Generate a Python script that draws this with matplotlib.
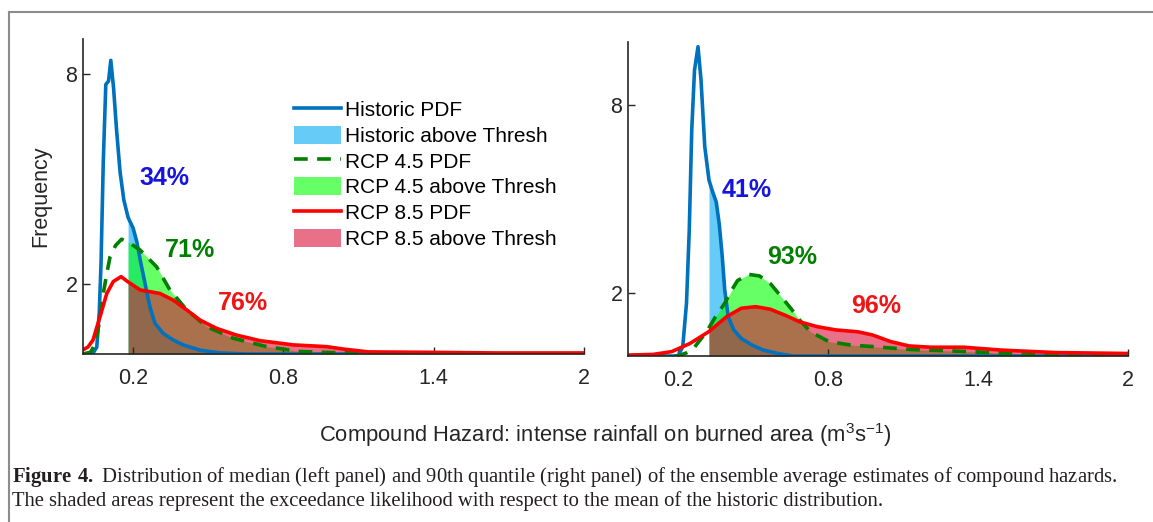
import matplotlib
matplotlib.use("Agg")
import matplotlib.pyplot as plt
import numpy as np
from matplotlib.patches import Patch
from matplotlib.lines import Line2D

plt.rcParams['font.family'] = ['Liberation Sans', 'DejaVu Sans']
plt.rcParams['mathtext.fontset'] = 'custom'
plt.rcParams['mathtext.rm'] = 'Liberation Sans'
plt.rcParams['mathtext.bf'] = 'Liberation Serif:bold'

thr_left = 0.18
hist_x_L = [0.0, 0.04, 0.055, 0.065, 0.072, 0.081, 0.091, 0.102, 0.111, 0.122, 0.134, 0.148,
            0.163, 0.18, 0.2, 0.215, 0.228, 0.248, 0.267, 0.287, 0.32, 0.36, 0.4, 0.467,
            0.547, 0.65, 1.0, 1.5, 2.0]
hist_y_L = [0.0, 0.02, 0.2, 1.2, 2.6, 5.5, 7.7, 7.8, 8.39, 7.6, 6.4, 5.2,
            4.4, 3.9, 3.6, 3.2, 2.7, 2.0, 1.35, 0.88, 0.59, 0.4, 0.26, 0.11,
            0.03, 0.0, 0.0, 0.0, 0.0]
rcp45_x_L = [0.0, 0.03, 0.05, 0.065, 0.081, 0.095, 0.108, 0.13, 0.154, 0.18, 0.228, 0.294,
             0.347, 0.414, 0.494, 0.60, 0.733, 0.866, 1.0, 1.3, 1.6, 2.0]
rcp45_y_L = [0.0, 0.05, 0.3, 0.9, 1.73, 2.3, 2.78, 3.1, 3.28, 3.2, 2.97, 2.49,
             1.83, 1.26, 0.78, 0.45, 0.21, 0.07, 0.04, 0.03, 0.0, 0.0]
rcp85_x_L = [0.0, 0.02, 0.04, 0.068, 0.095, 0.121, 0.152, 0.18, 0.228, 0.267, 0.307, 0.36,
             0.414, 0.467, 0.534, 0.613, 0.707, 0.84, 0.973, 1.04, 1.14, 1.35, 1.65, 2.0]
rcp85_y_L = [0.12, 0.2, 0.4, 1.07, 1.73, 2.07, 2.21, 2.06, 1.83, 1.78, 1.73, 1.54,
             1.26, 0.97, 0.73, 0.54, 0.38, 0.26, 0.21, 0.14, 0.06, 0.05, 0.03, 0.03]

thr_right = 0.324
hist_x_R = [0.0, 0.2, 0.219, 0.234, 0.245, 0.255, 0.266, 0.28, 0.292, 0.307, 0.324, 0.336,
            0.353, 0.365, 0.377, 0.387, 0.401, 0.423, 0.453, 0.496, 0.54, 0.6, 0.66, 1.0,
            1.5, 2.0]
hist_y_R = [0.0, 0.0, 0.3, 1.68, 4.0, 7.2, 9.1, 9.85, 8.8, 6.67, 5.6, 5.29,
            4.9, 4.2, 3.16, 2.1, 1.25, 0.83, 0.56, 0.35, 0.19, 0.08, 0.0, 0.0,
            0.0, 0.0]
rcp45_x_R = [0.0, 0.2, 0.234, 0.263, 0.307, 0.324, 0.35, 0.387, 0.415, 0.438, 0.482, 0.526,
             0.569, 0.613, 0.657, 0.686, 0.73, 0.803, 0.89, 0.978, 1.124, 1.27, 1.416, 1.56,
             1.78, 2.0]
rcp45_y_R = [0.0, 0.0, 0.1, 0.25, 0.7, 0.9, 1.25, 1.68, 2.1, 2.4, 2.6, 2.55,
             2.31, 1.89, 1.46, 1.15, 0.77, 0.46, 0.35, 0.3, 0.21, 0.17, 0.12, 0.06,
             0.03, 0.0]
rcp85_x_R = [0.0, 0.1, 0.175, 0.248, 0.324, 0.394, 0.453, 0.511, 0.569, 0.628, 0.686, 0.759,
             0.832, 0.92, 0.978, 1.05, 1.124, 1.21, 1.343, 1.49, 1.708, 2.0]
rcp85_y_R = [0.03, 0.05, 0.14, 0.4, 0.78, 1.25, 1.52, 1.57, 1.49, 1.3, 1.09, 0.93,
             0.83, 0.77, 0.67, 0.46, 0.32, 0.28, 0.28, 0.19, 0.11, 0.08]

pct_left = ['34%', '71%', '76%']
pct_right = ['41%', '93%', '96%']
pct_pos_left = [(0.327, 5.03), (0.427, 2.97), (0.639, 1.46)]
pct_pos_right = [(0.474, 5.3), (0.657, 3.14), (0.993, 1.59)]

xticks = [0.2, 0.8, 1.4, 2]
xticklabels = ['0.2', '0.8', '1.4', '2']
yticks = [2, 8]

c_hist = '#0072BD'
c_45 = '#007F00'
c_85 = '#FF0000'
f_hist = (0.0, 0.67, 0.95)
f_45 = (0.0, 1.0, 0.0)
f_85 = (0.85, 0.07, 0.23)
fa = 0.6
lw = 2.6
dash = (0, (3.8, 2.6))


def shade(ax, x, y, thr, color):
    x = np.asarray(x)
    y = np.asarray(y)
    m = x >= thr
    ax.fill_between(x[m], 0, y[m], color=color, alpha=fa, linewidth=0)


def panel(ax, hx, hy, gx, gy, rx, ry, thr, ymax, labels, pos):
    ax.plot(hx, hy, color=c_hist, lw=lw)
    shade(ax, hx, hy, thr, f_hist)
    ax.plot(gx, gy, color=c_45, lw=lw, linestyle=dash)
    shade(ax, gx, gy, thr, f_45)
    shade(ax, rx, ry, thr, f_85)
    ax.plot(rx, ry, color=c_85, lw=lw)
    ax.set_xlim(0, 2)
    ax.set_ylim(0, ymax)
    ax.set_xticks(xticks)
    ax.set_xticklabels(xticklabels)
    ax.set_yticks(yticks)
    ax.tick_params(direction='in', length=5, width=1, labelsize=15.5, colors='#262626')
    ax.tick_params(axis='x', pad=10)
    ax.tick_params(axis='y', pad=4)
    for s in ['top', 'right']:
        ax.spines[s].set_visible(False)
    for s in ['left', 'bottom']:
        ax.spines[s].set_color('#262626')
        ax.spines[s].set_linewidth(1.2)
    cols = ['#1515DD', c_45, '#F01515']
    for t, (px, py), c in zip(labels, pos, cols):
        ax.text(px, py, t, color=c, fontsize=18, fontweight='bold', ha='center', va='center')


fig = plt.figure(figsize=(11.53, 5.22), dpi=100)
axL = fig.add_axes([83 / 1153, 1 - 354 / 522, 501 / 1153, 315 / 522])
axR = fig.add_axes([628 / 1153, 1 - 356 / 522, 500 / 1153, 314 / 522])

panel(axL, hist_x_L, hist_y_L, rcp45_x_L, rcp45_y_L, rcp85_x_L, rcp85_y_L,
      thr_left, 9, pct_left, pct_pos_left)
panel(axR, hist_x_R, hist_y_R, rcp45_x_R, rcp45_y_R, rcp85_x_R, rcp85_y_R,
      thr_right, 10, pct_right, pct_pos_right)

axL.set_ylabel('Frequency', fontsize=15.5, color='#262626', labelpad=10)

handles = [
    Line2D([], [], color=c_hist, lw=lw),
    Patch(facecolor=f_hist, alpha=fa, linewidth=0),
    Line2D([], [], color=c_45, lw=lw, linestyle=dash),
    Patch(facecolor=f_45, alpha=fa, linewidth=0),
    Line2D([], [], color=c_85, lw=lw),
    Patch(facecolor=f_85, alpha=fa, linewidth=0),
]
names = ['Historic PDF', 'Historic above Thresh', 'RCP 4.5 PDF',
         'RCP 4.5 above Thresh', 'RCP 8.5 PDF', 'RCP 8.5 above Thresh']
axL.legend(handles, names, loc='upper left', bbox_to_anchor=(0.40, 0.84),
           frameon=False, fontsize=15, borderpad=0, labelspacing=0.27,
           handlelength=2.25, handleheight=0.95, handletextpad=0.2)

fig.text(0.525, 1 - 435 / 522, r'Compound Hazard: intense rainfall on burned area (m$^3$s$^{-1}$)',
         fontsize=15.8, ha='center', va='center', color='#262626')

cap1 = (r'$\mathbf{Figure\ 4.}$ Distribution of median (left panel) and 90th quantile (right panel) '
        'of the ensemble average estimates of compound hazards.')
cap2 = ('The shaded areas represent the exceedance likelihood with respect to the mean '
        'of the historic distribution.')
fig.text(12 / 1153, 1 - 482 / 522, cap1, fontsize=14.9, family='Liberation Serif',
         ha='left', va='baseline', color='#231f20')
fig.text(12 / 1153, 1 - 506 / 522, cap2, fontsize=14.9, family='Liberation Serif',
         ha='left', va='baseline', color='#231f20')

# thin grey frame of the journal figure box
fig.add_artist(Line2D([9 / 1153, 1.0], [1 - 12 / 522, 1 - 12 / 522], color='#8c8c8c', lw=1.5))
fig.add_artist(Line2D([9 / 1153, 9 / 1153], [0.0, 1 - 12 / 522], color='#8c8c8c', lw=1.5))

fig.savefig('out.png', dpi=100)
